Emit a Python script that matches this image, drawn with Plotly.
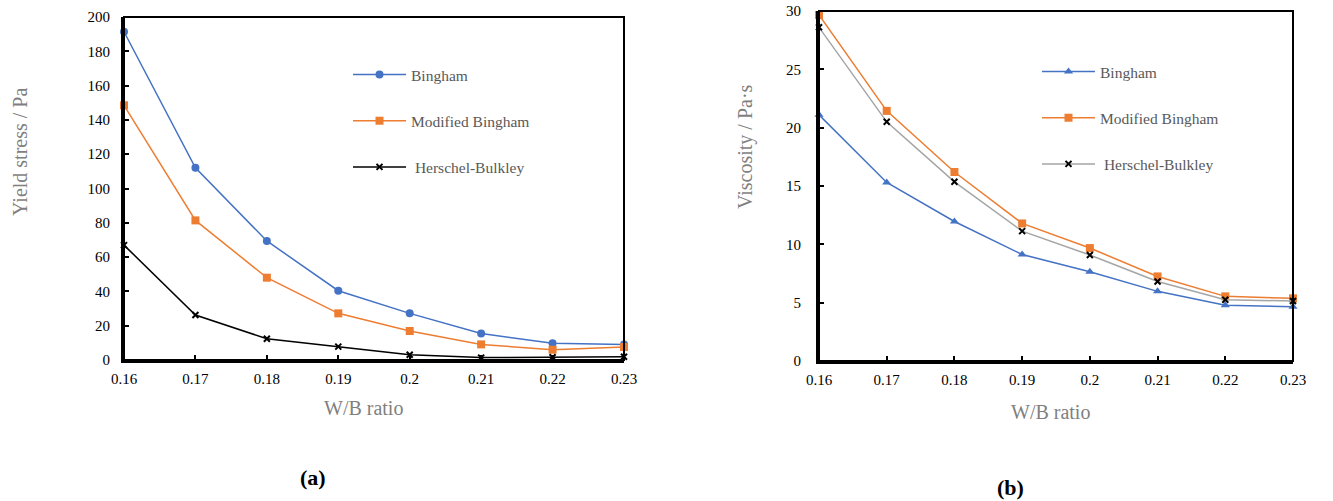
import plotly.graph_objects as go

# W/B ratio values shared by both panels
wb_ratio = [0.16, 0.17, 0.18, 0.19, 0.20, 0.21, 0.22, 0.23]
x_tick_text = ["0.16", "0.17", "0.18", "0.19", "0.2", "0.21", "0.22", "0.23"]

# (a) yield stress, Pa
yield_bingham = [191.4, 112.1, 69.4, 40.4, 27.2, 15.5, 9.7, 9.1]
yield_mod_bingham = [148.5, 81.4, 48.0, 27.2, 16.9, 9.1, 6.0, 7.6]
yield_hb = [67.0, 26.2, 12.4, 7.8, 3.1, 1.4, 1.6, 1.9]

# (b) viscosity, Pa·s
visc_bingham = [21.1, 15.3, 11.96, 9.13, 7.65, 5.97, 4.77, 4.65]
visc_mod_bingham = [29.66, 21.44, 16.2, 11.79, 9.68, 7.25, 5.54, 5.37]
visc_hb = [28.6, 20.5, 15.36, 11.13, 9.08, 6.82, 5.25, 5.14]

series_names = ["Bingham", "Modified Bingham", "Herschel-Bulkley"]

BLUE = "#4472C4"
ORANGE = "#ED7D31"
GRAY_LINE = "#A5A5A5"
SERIF = "Liberation Serif"

W, H = 1333, 501

fig = go.Figure()

# ---- panel (a) ----
fig.add_trace(go.Scatter(
    x=wb_ratio, y=yield_bingham, name=series_names[0], mode="lines+markers",
    line=dict(color=BLUE, width=1.5), marker=dict(symbol="circle", size=8, color=BLUE),
    xaxis="x", yaxis="y", legend="legend", legendgroup="a1", cliponaxis=False))
fig.add_trace(go.Scatter(
    x=wb_ratio, y=yield_mod_bingham, name=series_names[1], mode="lines+markers",
    line=dict(color=ORANGE, width=1.5), marker=dict(symbol="square", size=8, color=ORANGE),
    xaxis="x", yaxis="y", legend="legend", legendgroup="a2", cliponaxis=False))
fig.add_trace(go.Scatter(
    x=wb_ratio, y=yield_hb, name=" " + series_names[2], mode="lines+markers",
    line=dict(color="black", width=1.5),
    marker=dict(symbol="x-thin", size=6, color="black", line=dict(width=2, color="black")),
    xaxis="x", yaxis="y", legend="legend", legendgroup="a3", cliponaxis=False))

# ---- panel (b) ----
fig.add_trace(go.Scatter(
    x=wb_ratio, y=visc_bingham, name=series_names[0], mode="lines+markers",
    line=dict(color=BLUE, width=1.5), marker=dict(symbol="triangle-up", size=8, color=BLUE),
    xaxis="x2", yaxis="y2", legend="legend2", legendgroup="b1", cliponaxis=False))
fig.add_trace(go.Scatter(
    x=wb_ratio, y=visc_mod_bingham, name=series_names[1], mode="lines+markers",
    line=dict(color=ORANGE, width=1.5), marker=dict(symbol="square", size=8, color=ORANGE),
    xaxis="x2", yaxis="y2", legend="legend2", legendgroup="b2", cliponaxis=False))
fig.add_trace(go.Scatter(
    x=wb_ratio, y=visc_hb, name=" " + series_names[2], mode="lines+markers",
    line=dict(color=GRAY_LINE, width=1.5),
    marker=dict(symbol="x-thin", size=6, color="black", line=dict(width=2, color="black")),
    xaxis="x2", yaxis="y2", legend="legend2", legendgroup="b3", cliponaxis=False))

# plot-area positions in pixels
a_left, a_right, a_top, a_bottom = 124, 624, 17, 360
b_left, b_right, b_top, b_bottom = 819, 1293, 11, 361

def px_dom_x(l, r):
    return [l / W, r / W]

def px_dom_y(t, b):
    return [1 - b / H, 1 - t / H]

axis_common = dict(
    showline=True, linecolor="black", linewidth=3, mirror=False,
    ticks="inside", ticklen=5, tickwidth=2, tickcolor="black",
    showgrid=False, zeroline=False, automargin=False,
    tickfont=dict(family=SERIF, size=15, color="black"),
)

legend_font = dict(family=SERIF, size=15.5, color="#595959")

fig.update_layout(
    width=W, height=H,
    margin=dict(l=0, r=0, t=0, b=0, autoexpand=False),
    paper_bgcolor="white", plot_bgcolor="white",
    showlegend=True,
    font=dict(family=SERIF),
    xaxis=dict(domain=px_dom_x(a_left, a_right), range=[0.16, 0.23],
               tickvals=wb_ratio, ticktext=x_tick_text, anchor="y",
               ticklabelstandoff=3, **axis_common),
    yaxis=dict(domain=px_dom_y(a_top, a_bottom), range=[0, 200], dtick=20,
               anchor="x", ticklabelstandoff=8, **axis_common),
    xaxis2=dict(domain=px_dom_x(b_left, b_right), range=[0.16, 0.23],
                tickvals=wb_ratio, ticktext=x_tick_text, anchor="y2",
                ticklabelstandoff=3, **axis_common),
    yaxis2=dict(domain=px_dom_y(b_top, b_bottom), range=[0, 30], dtick=5,
                anchor="x2", ticklabelstandoff=12, **axis_common),
    legend=dict(x=348 / W, y=1 - 58 / H, xanchor="left", yanchor="top",
                traceorder="grouped", tracegroupgap=23, itemwidth=53,
                bgcolor="rgba(0,0,0,0)", font=legend_font),
    legend2=dict(x=1037 / W, y=1 - 55 / H, xanchor="left", yanchor="top",
                 traceorder="grouped", tracegroupgap=23, itemwidth=53,
                 bgcolor="rgba(0,0,0,0)", font=legend_font),
)

# thin frame around each plot area
for xr, yr in (("x domain", "y domain"), ("x2 domain", "y2 domain")):
    fig.add_shape(type="rect", xref=xr, yref=yr, x0=0, x1=1, y0=0, y1=1,
                  line=dict(color="black", width=2), fillcolor="rgba(0,0,0,0)")

title_font = dict(family=SERIF, size=20, color="#7F7F7F")
annotations = [
    dict(text="Yield stress / Pa", x=20 / W, y=1 - 152 / H, textangle=-90, font=title_font),
    dict(text="W/B ratio", x=363 / W, y=1 - 408 / H, font=title_font),
    dict(text="Viscosity / Pa·s", x=745 / W, y=1 - 147 / H, textangle=-90, font=title_font),
    dict(text="W/B ratio", x=1050 / W, y=1 - 412 / H, font=title_font),
    dict(text="<b>(a)</b>", x=313 / W, y=1 - 477 / H,
         font=dict(family=SERIF, size=22, color="black")),
    dict(text="<b>(b)</b>", x=1010 / W, y=1 - 487 / H,
         font=dict(family=SERIF, size=22, color="black")),
]
for a in annotations:
    fig.add_annotation(xref="paper", yref="paper", showarrow=False,
                       xanchor="center", yanchor="middle", **a)

fig.write_html("out.html")
